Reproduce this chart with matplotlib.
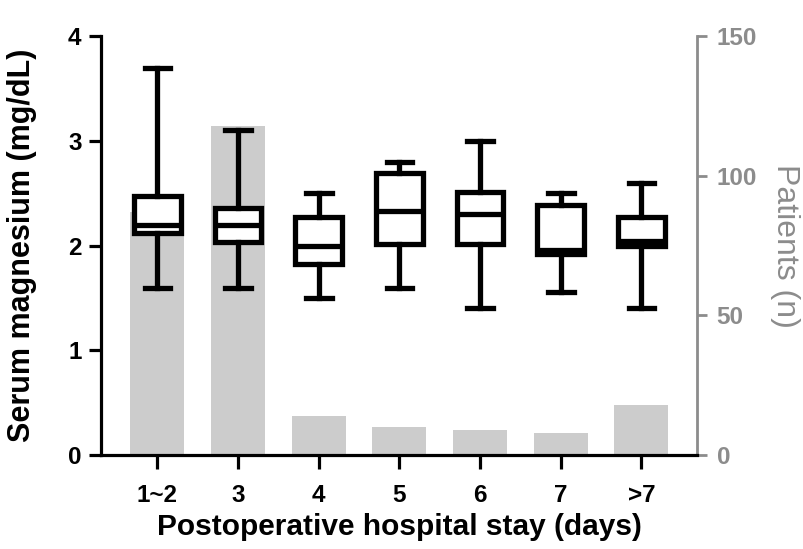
import matplotlib
matplotlib.use("Agg")
import matplotlib.pyplot as plt

plt.rcParams['font.family'] = ['Liberation Sans', 'DejaVu Sans']

categories = ["1~2", "3", "4", "5", "6", "7", ">7"]
patients = [87, 118, 14, 10, 9, 8, 18]
whisker_low = [1.60, 1.60, 1.50, 1.60, 1.40, 1.56, 1.40]
q1 = [2.12, 2.03, 1.82, 2.02, 2.02, 1.92, 2.00]
median = [2.20, 2.20, 2.00, 2.33, 2.30, 1.96, 2.045]
q3 = [2.47, 2.36, 2.27, 2.69, 2.51, 2.39, 2.27]
whisker_high = [3.70, 3.10, 2.50, 2.80, 3.00, 2.50, 2.60]

fig = plt.figure(figsize=(8.04, 5.49), dpi=100)
ax = fig.add_axes([0.1256, 0.1712, 0.867 - 0.1256, 0.934 - 0.1712])
ax2 = ax.twinx()

pos = list(range(len(categories)))
ax2.bar(pos, patients, width=0.67, color="#cccccc", zorder=1)
ax2.set_ylim(0, 150)
ax2.set_yticks([0, 50, 100, 150])

stats = []
for i in range(len(categories)):
    stats.append(dict(whislo=whisker_low[i], q1=q1[i], med=median[i],
                      q3=q3[i], whishi=whisker_high[i], fliers=[]))
lw = 3.8
ax.bxp(stats, positions=pos, widths=0.58, showfliers=False, patch_artist=True,
       boxprops=dict(facecolor="white", edgecolor="black", linewidth=lw),
       medianprops=dict(color="black", linewidth=lw, solid_capstyle="butt"),
       whiskerprops=dict(color="black", linewidth=lw),
       capprops=dict(color="black", linewidth=lw),
       capwidths=0.32)
ax.set_zorder(2)
ax.patch.set_visible(False)

ax.set_xlim(-0.7, 6.69)
ax.set_ylim(0, 4)
ax.set_yticks([0, 1, 2, 3, 4])
ax.set_xticks(pos)
ax.set_xticklabels(categories)

for a in (ax, ax2):
    a.spines['top'].set_visible(False)
ax.spines['right'].set_visible(False)
ax.spines['left'].set_linewidth(2.3)
ax.spines['bottom'].set_linewidth(2.3)
ax2.spines['left'].set_visible(False)
ax2.spines['bottom'].set_visible(False)
ax2.spines['right'].set_color("#8c8c8c")
ax2.spines['right'].set_linewidth(2.0)

ax.tick_params(axis='y', which='major', length=9, width=2.3, labelsize=17.5,
               color='black', pad=5)
ax.tick_params(axis='x', which='major', length=10, width=2.3, labelsize=17.5,
               color='black', pad=11)
ax2.tick_params(axis='y', length=7, width=2.0, color="#8c8c8c", labelcolor="#8c8c8c",
                labelsize=17.5, pad=7)
for lab in ax.get_xticklabels() + ax.get_yticklabels():
    lab.set_fontweight('bold')
for lab in ax2.get_yticklabels():
    lab.set_fontweight('bold')

ax.set_xlabel("Postoperative hospital stay (days)", fontsize=21.5, fontweight='bold', labelpad=4)
ax.set_ylabel("Serum magnesium (mg/dL)", fontsize=22, fontweight='bold', labelpad=22)
ax2.set_ylabel("Patients (n)", fontsize=23, color="#8c8c8c", rotation=-90, labelpad=31)

fig.savefig("out.png", dpi=100)
